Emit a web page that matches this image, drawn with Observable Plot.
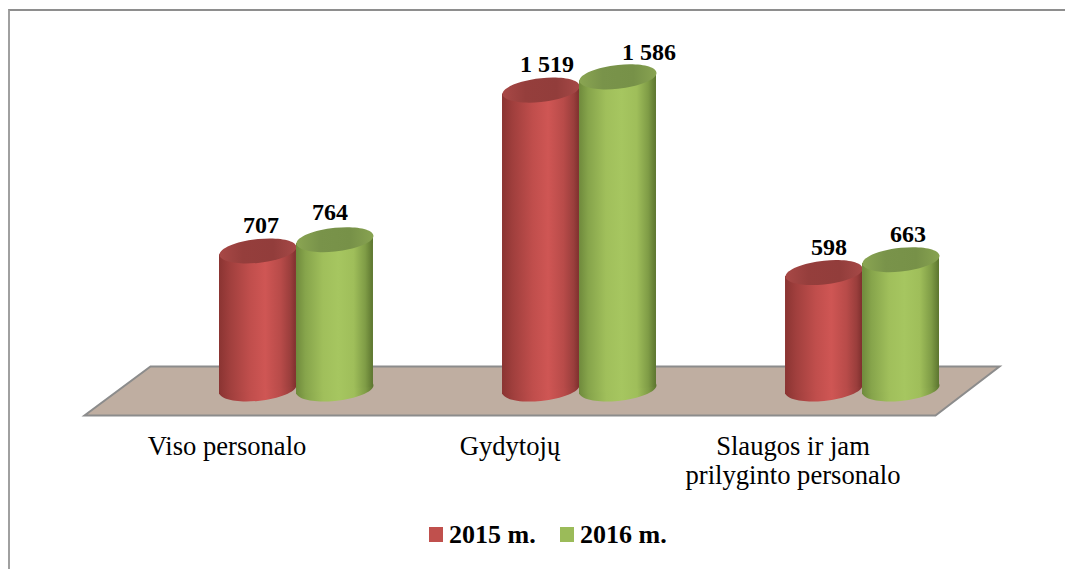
<!DOCTYPE html>
<html lang="lt">
<head>
<meta charset="utf-8">
<script src="https://cdn.jsdelivr.net/npm/d3@7"></script>
<script src="https://cdn.jsdelivr.net/npm/@observablehq/plot@0.6"></script>
<style>
  html, body { margin: 0; padding: 0; background: #fff; overflow: hidden; }
  #frame { position: fixed; left: 8px; top: 9px; right: -10px; bottom: -10px;
           border-top: 2px solid #8e8e8e; border-left: 2px solid #a0a0a0; pointer-events: none; }
  #legend { position: absolute; top: 510px; left: 0; width: 1065px; height: 50px;
            font: bold 26px "Liberation Serif", serif; color: #000; }
  #legend span { position: absolute; white-space: nowrap; line-height: 50px; }
  #legend i { position: absolute; width: 14px; height: 15px; top: 17px; }
</style>
</head>
<body>
<div id="chart"></div>
<div id="legend"></div>
<div id="frame"></div>
<script>
const categories = ["Viso personalo", "Gydytojų", "Slaugos ir jam prilyginto personalo"];
const tickLabels = ["Viso personalo", "Gydytojų", "Slaugos ir jam\nprilyginto personalo"];
const years = ["2015 m.", "2016 m."];
const values2015 = [707, 1519, 598];
const values2016 = [764, 1586, 663];

// Label nudges, as in the reference (style only, not data).
const labelDx2015 = [3, 6, 5];
const labelDx2016 = [-5, 31, 7];
const labelDy2015 = [-26, -26, -25.5];
const labelDy2016 = [-27.5, -25, -25.5];

const halfBar = 38.5;
const tilt = -0.1;
const ryRatio = 0.31;

const fmt = v => String(v).replace(/\B(?=(\d{3})+$)/g, " ");
const rows = vs => categories.map((category, i) => ({category, value: vs[i], label: fmt(vs[i])}));

// Cylinder cap: an ellipse sheared to follow the perspective tilt.
const capSymbol = {
  draw(ctx, size) {
    const rx = Math.sqrt(size / Math.PI), ry = rx * ryRatio, c = 0.5523;
    const P = (x, y) => [x, y + tilt * x];
    const seg = (a, b, d) => ctx.bezierCurveTo(...P(...a), ...P(...b), ...P(...d));
    ctx.moveTo(...P(rx, 0));
    seg([rx, c * ry], [c * rx, ry], [0, ry]);
    seg([-c * rx, ry], [-rx, c * ry], [-rx, 0]);
    seg([-rx, -c * ry], [-c * rx, -ry], [0, -ry]);
    seg([c * rx, -ry], [rx, -c * ry], [rx, 0]);
    ctx.closePath();
  }
};

// The plane that the cylinders stand on.
const floorSymbol = {
  draw(ctx) {
    ctx.moveTo(-458, 24.5);
    ctx.lineTo(393, 24.5);
    ctx.lineTo(457, -24.5);
    ctx.lineTo(-392, -24.5);
    ctx.closePath();
  }
};

const stops = list => list.map(([o, c]) => `<stop offset="${o}" stop-color="${c}"/>`).join("");
const defs = () => d3.create("svg:g").html(`<defs>
  <linearGradient id="bodyRed" x1="0" x2="1" y1="0" y2="0">${stops([
    [0, "#8a3432"], [0.14, "#a03f3d"], [0.4, "#c04e4c"], [0.6, "#cf5654"], [0.8, "#b84b49"], [0.93, "#9a3e3c"], [1, "#7f302e"]])}</linearGradient>
  <linearGradient id="bodyGreen" x1="0" x2="1" y1="0" y2="0">${stops([
    [0, "#6f8a3c"], [0.12, "#86a44b"], [0.35, "#a0bf5b"], [0.55, "#a6c660"], [0.75, "#9fbe5a"], [0.9, "#7f9c46"], [1, "#5c752f"]])}</linearGradient>
  <linearGradient id="capRed" x1="0" x2="1" y1="0" y2="0">${stops([
    [0, "#a84846"], [0.3, "#953e3c"], [0.7, "#923d3b"], [1, "#a64947"]])}</linearGradient>
  <linearGradient id="capGreen" x1="0" x2="1" y1="0" y2="0">${stops([
    [0, "#8aa552"], [0.3, "#79934a"], [0.7, "#779148"], [1, "#88a351"]])}</linearGradient>
</defs>`).node();

const shear = function (index, scales, values, dimensions, context, next) {
  const g = next(index, scales, values, dimensions, context);
  d3.select(g).selectAll("rect").attr("transform", function () {
    const cx = +this.getAttribute("x") + (+this.getAttribute("width")) / 2;
    return `matrix(1,${tilt},0,1,0,${-tilt * cx})`;
  });
  return g;
};

const cylinder = (vs, dx, body, cap) => {
  const data = rows(vs);
  return [
    Plot.dot(data, {x: "category", y: () => 0, dx, dy: -2, r: halfBar, symbol: capSymbol, fill: `url(#${body})`}),
    Plot.barY(data, {x: "category", y: "value", dx, fill: `url(#${body})`, render: shear}),
    Plot.dot(data, {x: "category", y: "value", dx, r: halfBar, symbol: capSymbol, fill: `url(#${cap})`})
  ];
};

const labels = (vs, dxs, dys, barDx) => rows(vs).map((d, i) =>
  Plot.text([d], {x: "category", y: "value", text: "label", dx: barDx + dxs[i], dy: dys[i],
    fontSize: 24, fontWeight: "bold", fill: "#000"}));

const chart = Plot.plot({
  width: 1065,
  height: 510,
  marginLeft: 0, marginRight: 0, marginTop: 0, marginBottom: 92,
  style: {fontFamily: '"Liberation Serif", serif', background: "transparent"},
  x: {type: "band", domain: categories, range: [257.5, 900.5], paddingInner: 0.728, paddingOuter: 0, round: false},
  y: {domain: [0, 1800], range: [390.5, 34], axis: null},
  marks: [
    defs,
    Plot.dot([0], {x: () => categories[1], y: () => 0, dx: -37, r: 1, symbol: floorSymbol,
      fill: "#bfaea1", stroke: "#8c8c8c", strokeWidth: 2}),
    ...cylinder(values2015, -halfBar, "bodyRed", "capRed"),
    ...cylinder(values2016, halfBar, "bodyGreen", "capGreen"),
    ...labels(values2015, labelDx2015, labelDy2015, -halfBar),
    ...labels(values2016, labelDx2016, labelDy2016, halfBar),
    Plot.axisX({anchor: "bottom", tickSize: 0, tickPadding: 15, dx: -69.5, fontSize: 26.6, fill: "#000",
      lineHeight: 1.12, label: null, tickFormat: d => tickLabels[categories.indexOf(d)], textOverflow: null, lineWidth: Infinity})
  ]
});
document.getElementById("chart").append(chart);

const legend = document.getElementById("legend");
[["#c0504d", 429, 449, years[0]], ["#9bbb59", 560, 580, years[1]]].forEach(([color, sx, tx, text]) => {
  const sw = document.createElement("i");
  sw.style.cssText = `left:${sx}px;background:${color}`;
  const t = document.createElement("span");
  t.style.left = tx + "px";
  t.textContent = text;
  legend.append(sw, t);
});
</script>
</body>
</html>
